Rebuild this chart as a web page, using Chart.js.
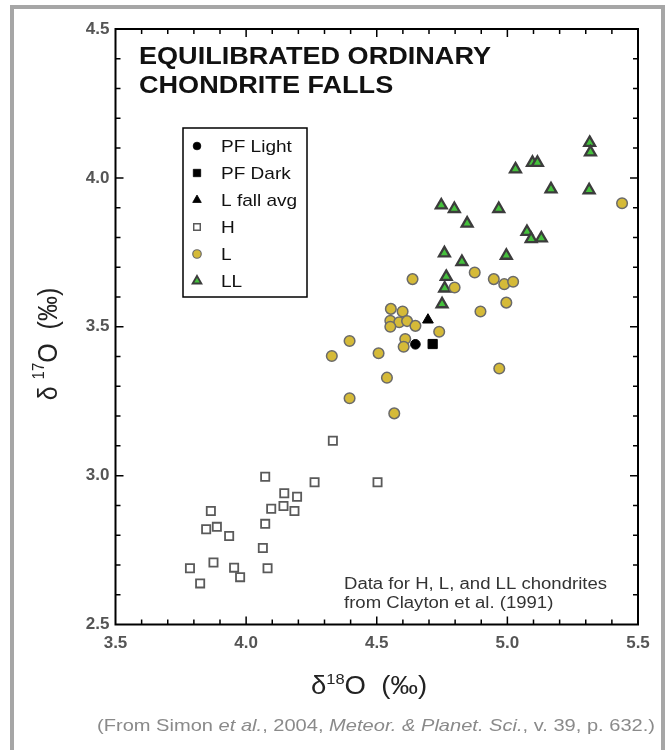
<!DOCTYPE html>
<html>
<head>
<meta charset="utf-8">
<script src="https://cdn.jsdelivr.net/npm/chart.js@4.4.1/dist/chart.umd.min.js"></script>
<style>
html,body{margin:0;padding:0;background:#fff;}
#wrap{position:relative;width:668px;height:750px;}
</style>
</head>
<body>
<div id="wrap"><canvas id="c" width="668" height="750"></canvas></div>
<script>
// ---- data ----
const seriesNames = ['PF Light', 'PF Dark', 'L fall avg', 'H', 'L', 'LL'];

const pfLightX = [4.648];
const pfLightY = [3.441];
const pfDarkX = [4.714];
const pfDarkY = [3.442];
const lFallAvgX = [4.696];
const lFallAvgY = [3.523];

const hX = [4.332, 4.073, 4.262, 4.503, 4.146, 4.195, 4.096, 4.143, 4.185, 3.865, 3.847,
            3.888, 3.935, 4.073, 4.064, 3.875, 3.785, 3.954, 3.977, 4.082, 3.824];
const hY = [3.117, 2.996, 2.978, 2.978, 2.941, 2.929, 2.889, 2.898, 2.881, 2.881, 2.820,
            2.828, 2.797, 2.838, 2.757, 2.708, 2.689, 2.691, 2.659, 2.689, 2.638];

const lX = [4.554, 4.599, 4.552, 4.586, 4.616, 4.552, 4.648, 4.739, 4.609, 4.603, 4.637,
            4.897, 4.996, 4.396, 4.328, 4.507, 4.539, 4.396, 4.567, 4.969, 5.439, 4.875,
            4.948, 4.988, 5.022, 4.798];
const lY = [3.560, 3.551, 3.520, 3.515, 3.519, 3.500, 3.503, 3.483, 3.459, 3.433, 3.660,
            3.551, 3.581, 3.452, 3.402, 3.411, 3.329, 3.260, 3.209, 3.360, 3.915, 3.682,
            3.660, 3.643, 3.651, 3.632];

const llX = [5.315, 5.318, 5.096, 5.115, 5.031, 5.167, 5.313, 4.747, 4.797, 4.967, 4.846,
             5.075, 5.091, 5.130, 4.759, 4.826, 4.996, 4.766, 4.760, 4.750];
const llY = [4.118, 4.086, 4.051, 4.051, 4.029, 3.962, 3.959, 3.908, 3.896, 3.896, 3.847,
             3.819, 3.795, 3.797, 3.747, 3.718, 3.739, 3.668, 3.629, 3.576];

const xTickVals = [3.5, 4.0, 4.5, 5.0, 5.5];
const yTickVals = [2.5, 3.0, 3.5, 4.0, 4.5];
const xMinorStep = 0.1;
const yMinorStep = 0.1;

const titleLines = ['EQUILIBRATED ORDINARY', 'CHONDRITE FALLS'];
const noteLines = ['Data for H, L, and LL chondrites', 'from Clayton et al. (1991)'];
const captionParts = [
  ['(From Simon ', false], ['et al.', true], [', 2004, ', false],
  ['Meteor. & Planet. Sci.', true], [', v. 39, p. 632.)', false]
];

// ---- helpers ----
const pts = (xs, ys) => xs.map((x, i) => ({x: x, y: ys[i]}));
const FF = "'Liberation Sans', Arial, sans-serif";

function drawSymbol(ctx, style, r, x, y, fill, stroke, bw) {
  ctx.save();
  ctx.beginPath();
  if (style === 'circle') {
    ctx.arc(x, y, r, 0, Math.PI * 2);
  } else if (style === 'rect') {
    const s = Math.SQRT1_2 * r;
    ctx.rect(x - s, y - s, 2 * s, 2 * s);
  } else if (style === 'triangle') {
    const a = -Math.PI / 2;
    ctx.moveTo(x + Math.cos(a) * r, y + Math.sin(a) * r);
    ctx.lineTo(x + Math.cos(a + 2 * Math.PI / 3) * r, y + Math.sin(a + 2 * Math.PI / 3) * r);
    ctx.lineTo(x + Math.cos(a + 4 * Math.PI / 3) * r, y + Math.sin(a + 4 * Math.PI / 3) * r);
    ctx.closePath();
  }
  ctx.fillStyle = fill; ctx.fill();
  if (bw > 0) { ctx.lineWidth = bw; ctx.strokeStyle = stroke; ctx.stroke(); }
  ctx.restore();
}

function measure(ctx, str, font) {
  ctx.save(); ctx.font = font; const w = ctx.measureText(str).width; ctx.restore(); return w;
}
function drawScaled(ctx, str, x, y, font, color, sx) {
  ctx.save(); ctx.font = font; ctx.fillStyle = color; ctx.textAlign = 'left'; ctx.textBaseline = 'alphabetic';
  ctx.translate(x, y); ctx.scale(sx, 1); ctx.fillText(str, 0, 0); ctx.restore();
}

const decor = {
  id: 'decor',
  beforeDraw(chart) {
    const ctx = chart.ctx;
    ctx.save();
    ctx.fillStyle = '#fff';
    ctx.fillRect(0, 0, chart.width, chart.height);
    ctx.fillStyle = '#a6a6a6';
    ctx.fillRect(10, 5, 4, 745);
    ctx.fillRect(10, 5, 655, 4);
    ctx.fillRect(661, 5, 4, 745);
    ctx.restore();
  },
  beforeDatasetsDraw(chart) {
    const ctx = chart.ctx, a = chart.chartArea;
    const xs = chart.scales.x, ys = chart.scales.y;
    ctx.save();
    ctx.strokeStyle = '#000';
    ctx.lineWidth = 1.5;
    const nx = Math.round((xs.max - xs.min) / xMinorStep);
    for (let i = 1; i < nx; i++) {
      const v = xs.min + i * xMinorStep;
      const px = xs.getPixelForValue(v);
      const len = (i % 5 === 0) ? 8 : 5;
      ctx.beginPath();
      ctx.moveTo(px, a.bottom); ctx.lineTo(px, a.bottom - len);
      ctx.moveTo(px, a.top); ctx.lineTo(px, a.top + len);
      ctx.stroke();
    }
    const ny = Math.round((ys.max - ys.min) / yMinorStep);
    for (let i = 1; i < ny; i++) {
      const v = ys.min + i * yMinorStep;
      const py = ys.getPixelForValue(v);
      const len = (i % 5 === 0) ? 8 : 5;
      ctx.beginPath();
      ctx.moveTo(a.left, py); ctx.lineTo(a.left + len, py);
      ctx.moveTo(a.right, py); ctx.lineTo(a.right - len, py);
      ctx.stroke();
    }
    ctx.lineWidth = 2;
    ctx.strokeRect(a.left, a.top, a.right - a.left, a.bottom - a.top);
    ctx.restore();
  },
  afterDraw(chart) {
    const ctx = chart.ctx;
    // title
    const tFont = 'bold 24px ' + FF;
    const tsx = 352 / measure(ctx, titleLines[0], tFont);
    drawScaled(ctx, titleLines[0], 139, 64, tFont, '#111', tsx);
    drawScaled(ctx, titleLines[1], 139, 93, tFont, '#111', tsx);

    // legend
    ctx.save();
    ctx.fillStyle = '#fff';
    ctx.fillRect(183, 128, 124, 169);
    ctx.lineWidth = 1.5; ctx.strokeStyle = '#000';
    ctx.strokeRect(183, 128, 124, 169);
    ctx.restore();
    const lFont = '17px ' + FF;
    chart.data.datasets.forEach((ds, k) => {
      const yy = 146 + k * 27;
      drawSymbol(ctx, ds.pointStyle, ds.pointRadius * 0.8, 197, yy, ds.backgroundColor, ds.borderColor, ds.borderWidth * 0.8);
      drawScaled(ctx, ds.label, 221, yy + 6, lFont, '#111', 1.12);
    });

    // note
    const nFont = '16px ' + FF;
    const nsx = 263 / measure(ctx, noteLines[0], nFont);
    drawScaled(ctx, noteLines[0], 344, 589, nFont, '#333', nsx);
    drawScaled(ctx, noteLines[1], 344, 608, nFont, '#333', nsx);

    // x axis title
    const bigF = '25px ' + FF, supF = '15px ' + FF;
    const sx = 1.1;
    const w1 = measure(ctx, '\u03b4', bigF), w2 = measure(ctx, '18', supF), w3 = measure(ctx, 'O  (\u2030)', bigF);
    let x0 = 369 - (w1 + w2 + w3) * sx / 2;
    drawScaled(ctx, '\u03b4', x0, 694, bigF, '#222', sx); x0 += w1 * sx;
    drawScaled(ctx, '18', x0, 684, supF, '#222', sx); x0 += w2 * sx;
    drawScaled(ctx, 'O  (\u2030)', x0, 694, bigF, '#222', sx);

    // y axis title
    ctx.save();
    ctx.translate(57, 344);
    ctx.rotate(-Math.PI / 2);
    ctx.scale(1, 1.1);
    const v1 = measure(ctx, '\u03b4 ', bigF), v2 = measure(ctx, '17', supF), v3 = measure(ctx, 'O  (\u2030)', bigF);
    let y0 = -(v1 + v2 + v3) / 2;
    ctx.fillStyle = '#222'; ctx.textBaseline = 'alphabetic';
    ctx.font = bigF; ctx.fillText('\u03b4 ', y0, 0); y0 += v1;
    ctx.font = supF; ctx.fillText('17', y0, -12); y0 += v2;
    ctx.font = bigF; ctx.fillText('O  (\u2030)', y0, 0);
    ctx.restore();

    // caption
    const cF = '17px ' + FF, cI = 'italic 17px ' + FF;
    let tot = 0;
    captionParts.forEach(p => { tot += measure(ctx, p[0], p[1] ? cI : cF); });
    const csx = 558 / tot;
    let cx = 97;
    captionParts.forEach(p => {
      const f = p[1] ? cI : cF;
      drawScaled(ctx, p[0], cx, 731, f, '#8a8a8a', csx);
      cx += measure(ctx, p[0], f) * csx;
    });
  }
};

const tickFont = {family: 'Liberation Sans', size: 17, weight: 'bold'};

new Chart(document.getElementById('c'), {
  type: 'scatter',
  data: {
    datasets: [
      {label: seriesNames[0], data: pts(pfLightX, pfLightY), pointStyle: 'circle', pointRadius: 4.8,
       backgroundColor: '#000', borderColor: '#000', borderWidth: 1},
      {label: seriesNames[1], data: pts(pfDarkX, pfDarkY), pointStyle: 'rect', pointRadius: 6.5,
       backgroundColor: '#000', borderColor: '#000', borderWidth: 1},
      {label: seriesNames[2], data: pts(lFallAvgX, lFallAvgY), pointStyle: 'triangle', pointRadius: 6.2,
       backgroundColor: '#000', borderColor: '#000', borderWidth: 1},
      {label: seriesNames[3], data: pts(hX, hY), pointStyle: 'rect', pointRadius: 5.8,
       backgroundColor: '#fff', borderColor: '#5a5a5a', borderWidth: 1.8},
      {label: seriesNames[4], data: pts(lX, lY), pointStyle: 'circle', pointRadius: 5.3,
       backgroundColor: '#d5ba38', borderColor: '#6a6a6a', borderWidth: 1.5},
      {label: seriesNames[5], data: pts(llX, llY), pointStyle: 'triangle', pointRadius: 6.3,
       backgroundColor: '#45c13c', borderColor: '#3c3c3c', borderWidth: 2.3}
    ]
  },
  options: {
    responsive: false,
    animation: false,
    layout: {padding: {top: 29, right: 30, left: 0, bottom: 0}},
    plugins: {legend: {display: false}, tooltip: {enabled: false}},
    scales: {
      x: {
        type: 'linear', min: 3.5, max: 5.5,
        grid: {display: false, drawTicks: false}, border: {display: false},
        afterBuildTicks: s => { s.ticks = xTickVals.map(v => ({value: v})); },
        afterFit: s => { s.height = 125.5; },
        ticks: {callback: v => Number(v).toFixed(1), font: tickFont, color: '#555', padding: 9,
                maxRotation: 0, autoSkip: false}
      },
      y: {
        type: 'linear', min: 2.5, max: 4.5,
        grid: {display: false, drawTicks: false}, border: {display: false},
        afterBuildTicks: s => { s.ticks = yTickVals.map(v => ({value: v})); },
        afterFit: s => { s.width = 115.5; },
        ticks: {callback: v => Number(v).toFixed(1), font: tickFont, color: '#555', padding: 6,
                autoSkip: false}
      }
    }
  },
  plugins: [decor]
});
</script>
</body>
</html>
